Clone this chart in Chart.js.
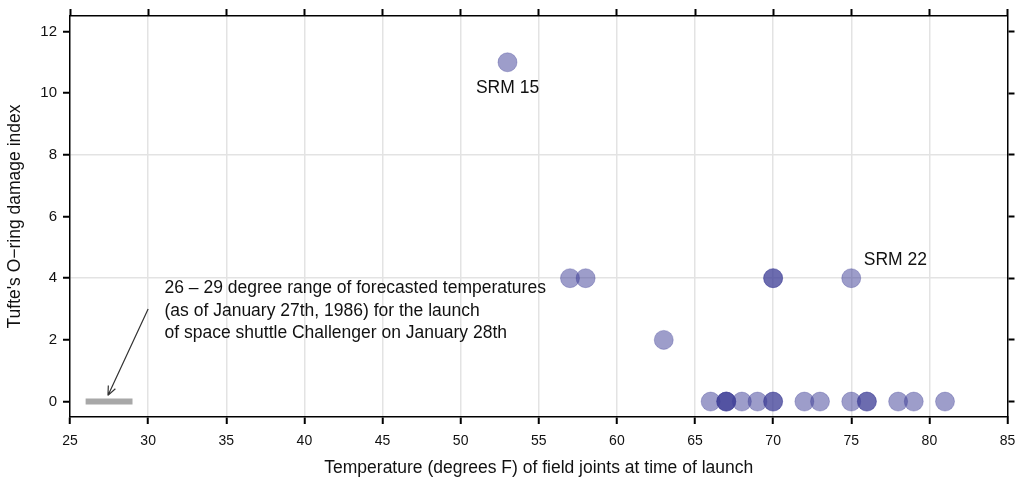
<!DOCTYPE html>
<html>
<head>
<meta charset="utf-8">
<script src="https://cdn.jsdelivr.net/npm/chart.js@4.4.1/dist/chart.umd.min.js"></script>
<style>
  body { margin: 0; background: #fff; }
  #wrap { width: 1018px; height: 479px; }
</style>
</head>
<body>
<div id="wrap"><canvas id="myChart" width="1018" height="479"></canvas></div>
<script>
// launch temperature (F) and Tufte's damage index for the 23 flights
const temps  = [53, 57, 58, 63, 66, 67, 67, 67, 68, 69, 70, 70, 70, 70, 72, 73, 75, 75, 76, 76, 78, 79, 81];
const damage = [11, 4, 4, 2, 0, 0, 0, 0, 0, 0, 4, 4, 0, 0, 0, 0, 4, 0, 0, 0, 0, 0, 0];

// forecast range for Challenger launch
const forecastRange = [26, 29];

const xTickValues = [25, 30, 35, 40, 45, 50, 55, 60, 65, 70, 75, 80, 85];
const yTickValues = [0, 2, 4, 6, 8, 10, 12];
const yGridValues = [4, 8];

const noteLines = [
    '26 \u2013 29 degree range of forecasted temperatures',
    '(as of January 27th, 1986) for the launch',
    'of space shuttle Challenger on January 28th'
];

const FONT = '"Liberation Sans", Arial, Helvetica, sans-serif';

const points = temps.map((t, i) => ({ x: t, y: damage[i] }));

function setTicks(values) {
    return scale => { scale.ticks = values.map(v => ({ value: v })); };
}

// fixed box sizes, no extra padding for the edge tick labels
function fixSize(w, h) {
    return s => {
        if (w !== null) s.width = w;
        if (h !== null) s.height = h;
        s.paddingLeft = 0;
        s.paddingRight = 0;
        s.paddingTop = 0;
        s.paddingBottom = 0;
    };
}

// text + arrow annotations, placed in data coordinates
const annotations = {
    id: 'annotations',
    afterDatasetsDraw(chart) {
        const { ctx, scales: { x, y } } = chart;
        ctx.save();
        ctx.fillStyle = '#111';
        ctx.textBaseline = 'middle';

        ctx.font = '17.5px ' + FONT;
        ctx.textAlign = 'center';
        ctx.fillText('SRM 15', x.getPixelForValue(53), y.getPixelForValue(10.15));
        ctx.textAlign = 'left';
        ctx.fillText('SRM 22', x.getPixelForValue(75.8), y.getPixelForValue(4.6));

        const tx = x.getPixelForValue(31.05);
        const ty = y.getPixelForValue(3.67);
        noteLines.forEach((line, i) => ctx.fillText(line, tx, ty + i * 22.5));

        // arrow
        const x1 = x.getPixelForValue(30), y1 = y.getPixelForValue(3);
        const x2 = x.getPixelForValue(27.43), y2 = y.getPixelForValue(0.2);
        ctx.strokeStyle = '#333';
        ctx.lineWidth = 1.2;
        ctx.beginPath();
        ctx.moveTo(x1, y1);
        ctx.lineTo(x2, y2);
        const ang = Math.atan2(y2 - y1, x2 - x1);
        const head = 10;
        ctx.moveTo(x2, y2);
        ctx.lineTo(x2 - head * Math.cos(ang - 0.4), y2 - head * Math.sin(ang - 0.4));
        ctx.moveTo(x2, y2);
        ctx.lineTo(x2 - head * Math.cos(ang + 0.4), y2 - head * Math.sin(ang + 0.4));
        ctx.stroke();
        ctx.restore();
    }
};

const border = { display: true, color: '#000', width: 1.5 };

new Chart(document.getElementById('myChart'), {
    type: 'scatter',
    data: {
        datasets: [
            {
                data: forecastRange.map(v => ({ x: v, y: 0 })),
                showLine: true,
                borderColor: '#a8a8a8',
                borderWidth: 6,
                borderCapStyle: 'butt',
                pointRadius: 0,
                order: 2
            },
            {
                data: points,
                backgroundColor: 'rgba(60, 60, 150, 0.5)',
                borderColor: 'rgba(60, 60, 150, 0.3)',
                borderWidth: 1,
                pointRadius: 9.5,
                order: 1
            }
        ]
    },
    options: {
        responsive: false,
        animation: false,
        layout: { padding: 0 },
        plugins: { legend: { display: false }, tooltip: { enabled: false } },
        scales: {
            x: {
                type: 'linear', position: 'bottom', min: 25, max: 85,
                afterBuildTicks: setTicks(xTickValues),
                afterFit: fixSize(null, 62),
                border: border,
                grid: {
                    color: c => (c.tick && c.tick.value > 25 && c.tick.value < 85) ? '#e3e3e3' : 'rgba(0,0,0,0)',
                    lineWidth: 1.5,
                    tickColor: '#000', tickLength: 7, tickWidth: 2
                },
                ticks: { font: { family: FONT, size: 14 }, color: '#111', padding: 9, maxRotation: 0 },
                title: {
                    display: true,
                    text: 'Temperature (degrees F) of field joints at time of launch',
                    font: { family: FONT, size: 17.5 }, color: '#111',
                    padding: { top: 4, bottom: 0 }
                }
            },
            x2: {
                type: 'linear', position: 'top', min: 25, max: 85,
                afterBuildTicks: setTicks(xTickValues),
                afterFit: fixSize(null, 16),
                border: border,
                grid: { color: 'rgba(0,0,0,0)', tickColor: '#000', tickLength: 7, tickWidth: 2 },
                ticks: { display: false }
            },
            y: {
                type: 'linear', position: 'left', min: -0.5, max: 12.5,
                afterBuildTicks: setTicks(yTickValues),
                afterFit: fixSize(70, null),
                border: border,
                grid: {
                    color: c => (c.tick && yGridValues.includes(c.tick.value)) ? '#e3e3e3' : 'rgba(0,0,0,0)',
                    lineWidth: 1.5,
                    tickColor: '#000', tickLength: 7, tickWidth: 2
                },
                ticks: { font: { family: FONT, size: 15 }, color: '#111', padding: 6 },
                title: {
                    display: true,
                    text: 'Tufte\'s O\u2212ring damage index',
                    font: { family: FONT, size: 17.5 }, color: '#111',
                    padding: { top: 5, bottom: 0 }
                }
            },
            y2: {
                type: 'linear', position: 'right', min: -0.5, max: 12.5,
                afterBuildTicks: setTicks(yTickValues),
                afterFit: fixSize(10, null),
                border: border,
                grid: { color: 'rgba(0,0,0,0)', tickColor: '#000', tickLength: 7, tickWidth: 2 },
                ticks: { display: false }
            }
        }
    },
    plugins: [annotations]
});
</script>
</body>
</html>
